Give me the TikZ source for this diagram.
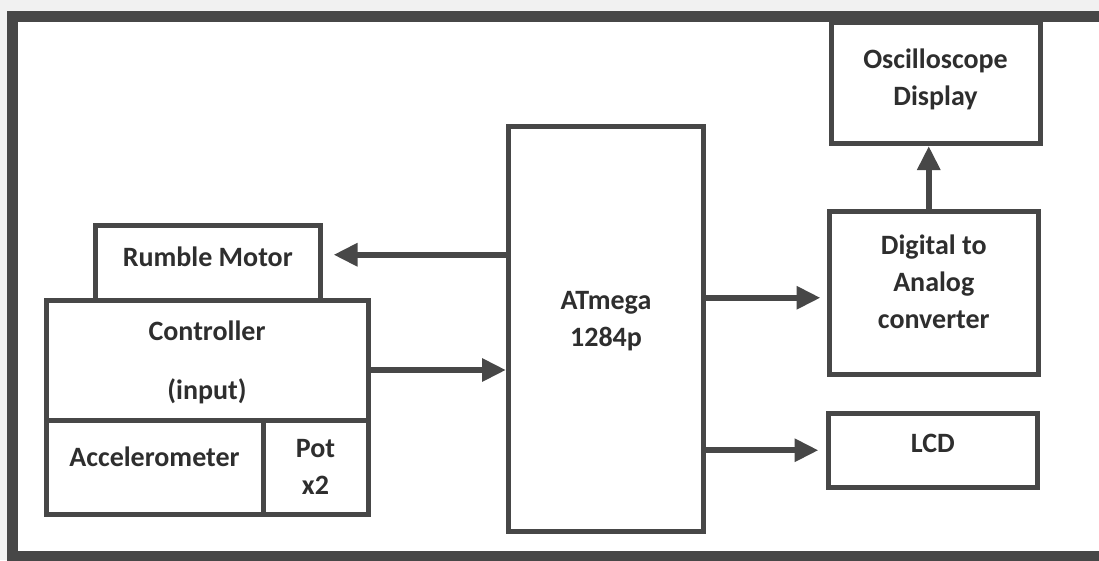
\documentclass[tikz,border=0pt]{standalone}
\usepackage{fontspec}
\setmainfont{Carlito}
\usetikzlibrary{arrows.meta}

\definecolor{inkgray}{HTML}{474747}
\definecolor{papergray}{HTML}{F1F1F1}

\begin{document}
\begin{tikzpicture}[
    x=1pt, y=-1pt,
    blk box/.style={
        draw=inkgray,
        line width=5pt,
        fill=white,
        inner sep=0pt,
        align=center,
        font=\fontsize{28}{37}\selectfont\bfseries,
        text=black!82
    },
    blk lift/.style={
        text depth=#1
    },
    blk flow/.style={
        -{Triangle[length=24pt,width=22pt]},
        line width=6pt,
        draw=inkgray
    }
]
    \clip (0,0) rectangle (1099,560);
    \fill[papergray] (0,0) rectangle (1099,560);

    % Rahmen des Blockschaltbilds (rechte Kante liegt ausserhalb)
    \draw[inkgray, line width=11pt, fill=white] (12,16) rectangle (1130,556);

    % Controller mit Sensoren (links)
    \node[blk box, blk lift=13pt, minimum width=224.5pt, minimum height=74.5pt]
        (rumble) at (207.75,262.75) {Rumble Motor};
    \node[blk box, blk lift=0pt, minimum width=322pt, minimum height=120pt]
        (controller) at (207,360) {Controller\\[22pt](input)};
    \node[blk box, blk lift=21.6pt, minimum width=217pt, minimum height=94.5pt]
        (accel) at (154.5,467.25) {Accelerometer};
    \node[blk box, minimum width=105pt, minimum height=94.5pt]
        (pot) at (315.5,467.25) {Pot\\x2};

    % Mikrocontroller (Mitte)
    \node[blk box, blk lift=20.5pt, minimum width=195pt, minimum height=405.5pt]
        (atmega) at (606,328.75) {ATmega\\1284p};

    % Ausgaenge (rechts)
    \node[blk box, blk lift=12pt, minimum width=209pt, minimum height=121.5pt]
        (scope) at (935.5,82.75) {Oscilloscope\\Display};
    \node[blk box, blk lift=22pt, minimum width=209.5pt, minimum height=162.5pt]
        (dac) at (933.75,292.75) {Digital to\\Analog\\converter};
    \node[blk box, blk lift=14pt, minimum width=209.5pt, minimum height=73.5pt]
        (lcd) at (932.75,450.25) {LCD};

    % Anschlusspunkte der Pfeile
    \coordinate (rumblein) at ([xshift=11pt,yshift=8pt]rumble.east);
    \coordinate (ctrlout) at ([yshift=-10pt]controller.east);
    \coordinate (dacin) at ([xshift=-6pt,yshift=-5pt]dac.west);
    \coordinate (lcdin) at ([xshift=-7pt]lcd.west);
    \coordinate (dacout) at ([xshift=-5pt]dac.north);

    % Signalfluss
    \draw[blk flow] (atmega.west |- rumblein) -- (rumblein);
    \draw[blk flow] (ctrlout) -- (ctrlout -| atmega.west);
    \foreach \target in {dacin,lcdin} {
        \draw[blk flow] (atmega.east |- \target) -- (\target);
    }
    \draw[blk flow] (dacout) -- (dacout |- scope.south);
\end{tikzpicture}
\end{document}
